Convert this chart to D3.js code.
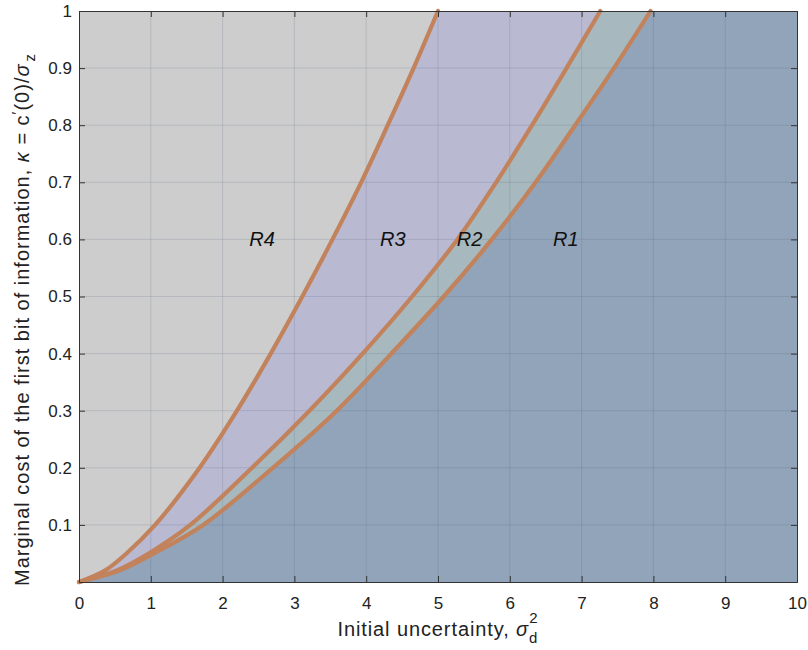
<!DOCTYPE html>
<html>
<head>
<meta charset="utf-8"/>
<script src="https://d3js.org/d3.v7.min.js"></script>
<style>
  html, body { margin: 0; padding: 0; background: #fff; }
  svg { display: block; font-family: "Liberation Sans", Arial, sans-serif; }
</style>
</head>
<body>
<svg id="chart" width="808" height="650"></svg>
<script>
// kappa levels at which each boundary was read (y values)
const kappaLevels = [0, 0.02, 0.05, 0.1, 0.2, 0.3, 0.4, 0.5, 0.6, 0.7, 0.8, 0.9, 1.0];
// x (initial uncertainty) of each boundary at those kappa levels
const bound43 = [0, 0.36, 0.66, 1.06, 1.68, 2.20, 2.67, 3.11, 3.53, 3.93, 4.30, 4.66, 5.00];
const bound32 = [0, 0.52, 0.97, 1.55, 2.41, 3.21, 3.95, 4.64, 5.27, 5.81, 6.31, 6.79, 7.26];
const bound21 = [0, 0.56, 1.04, 1.73, 2.70, 3.59, 4.35, 5.08, 5.75, 6.36, 6.91, 7.45, 7.96];

const xTicks = [0, 1, 2, 3, 4, 5, 6, 7, 8, 9, 10];
const yTicks = [0.1, 0.2, 0.3, 0.4, 0.5, 0.6, 0.7, 0.8, 0.9, 1];

const regionLabels = ["R4", "R3", "R2", "R1"];
const regionX = [2.55, 4.37, 5.44, 6.78];
const regionKappa = 0.6;

const svg = d3.select("#chart");
const margin = {left: 79, top: 11, right: 11, bottom: 68};
const W = 808 - margin.left - margin.right;
const H = 650 - margin.top - margin.bottom;

const x = d3.scaleLinear().domain([0, 10]).range([0, W]);
const y = d3.scaleLinear().domain([0, 1]).range([H, 0]);

const g = svg.append("g").attr("transform", `translate(${margin.left},${margin.top})`);

// background region R4
g.append("rect").attr("width", W).attr("height", H).attr("fill", "#cdcdcd");

// filled regions to the right of each boundary
const fills = [
  {data: bound43, color: "#b9b9d2"},
  {data: bound32, color: "#a7b9be"},
  {data: bound21, color: "#91a4b9"}
];
const smooth = d3.curveCatmullRom.alpha(0.5);
const area = d3.area()
  .y(d => y(d[1]))
  .x0(d => x(d[0]))
  .x1(x(10))
  .curve(smooth);
fills.forEach(f => {
  const pts = f.data.map((v, i) => [v, kappaLevels[i]]);
  g.append("path").attr("d", area(pts)).attr("fill", f.color);
});

// grid
g.append("g").selectAll("line").data(xTicks.slice(1, -1)).join("line")
  .attr("x1", d => x(d)).attr("x2", d => x(d)).attr("y1", 0).attr("y2", H)
  .attr("stroke", "#50607a").attr("stroke-opacity", 0.18).attr("stroke-width", 1);
g.append("g").selectAll("line").data(yTicks.slice(0, -1)).join("line")
  .attr("y1", d => y(d)).attr("y2", d => y(d)).attr("x1", 0).attr("x2", W)
  .attr("stroke", "#50607a").attr("stroke-opacity", 0.18).attr("stroke-width", 1);

// boundary curves
const line = d3.line()
  .x(d => x(d[0])).y(d => y(d[1]))
  .curve(smooth);
[bound43, bound32, bound21].forEach(b => {
  const pts = b.map((v, i) => [v, kappaLevels[i]]);
  g.append("path").attr("d", line(pts))
    .attr("fill", "none").attr("stroke", "#c2825c").attr("stroke-width", 4.2)
    .attr("stroke-linecap", "round");
});

// region labels
g.selectAll(".rlabel").data(regionLabels).join("text")
  .attr("class", "rlabel")
  .attr("x", (d, i) => x(regionX[i])).attr("y", y(regionKappa))
  .attr("dy", "0.35em").attr("text-anchor", "middle")
  .attr("font-size", 20).attr("font-style", "italic").attr("fill", "#111")
  .text(d => d);

// axes with inward ticks, box all round
const xAxis = g.append("g").attr("transform", `translate(0,${H})`)
  .call(d3.axisBottom(x).tickValues(xTicks).tickSize(-6).tickPadding(15).tickFormat(d3.format("d")));
const yAxis = g.append("g")
  .call(d3.axisLeft(y).tickValues(yTicks).tickSize(-6).tickPadding(7)
    .tickFormat(d => d === 1 ? "1" : d3.format(".1f")(d)));
g.append("g").call(d3.axisTop(x).tickValues(xTicks).tickSize(-6).tickFormat(""));
g.append("g").attr("transform", `translate(${W},0)`)
  .call(d3.axisRight(y).tickValues(yTicks).tickSize(-6).tickFormat(""));
g.selectAll(".domain").attr("stroke", "#333");
g.selectAll(".tick line").attr("stroke", "#333");
g.selectAll(".tick text").attr("font-size", 17).attr("fill", "#222")
  .attr("font-family", "'Liberation Sans', Arial, sans-serif");

// x label
const xl = svg.append("text")
  .attr("x", margin.left + W / 2).attr("y", 636)
  .attr("text-anchor", "middle").attr("font-size", 20).attr("letter-spacing", 0.9)
  .attr("fill", "#222");
xl.append("tspan").text("Initial uncertainty, ");
xl.append("tspan").attr("font-style", "italic").text("σ");
xl.append("tspan").attr("font-size", 15).attr("dy", 7).text("d");
xl.append("tspan").attr("font-size", 15).attr("dx", -9).attr("dy", -20).text("2");

// y label
const yl = svg.append("text")
  .attr("transform", `translate(29,${margin.top + H / 2 + 23}) rotate(-90)`)
  .attr("text-anchor", "middle").attr("font-size", 20).attr("letter-spacing", 1.0)
  .attr("fill", "#222");
yl.append("tspan").text("Marginal cost of the first bit of information, ");
yl.append("tspan").attr("font-style", "italic").text("κ");
yl.append("tspan").text(" = c");
yl.append("tspan").attr("font-size", 15).attr("dy", -7).text("′");
yl.append("tspan").attr("dy", 7).text("(0)/");
yl.append("tspan").attr("font-style", "italic").text("σ");
yl.append("tspan").attr("font-size", 15).attr("dy", 6).attr("dx", 2).text("z");
</script>
</body>
</html>
